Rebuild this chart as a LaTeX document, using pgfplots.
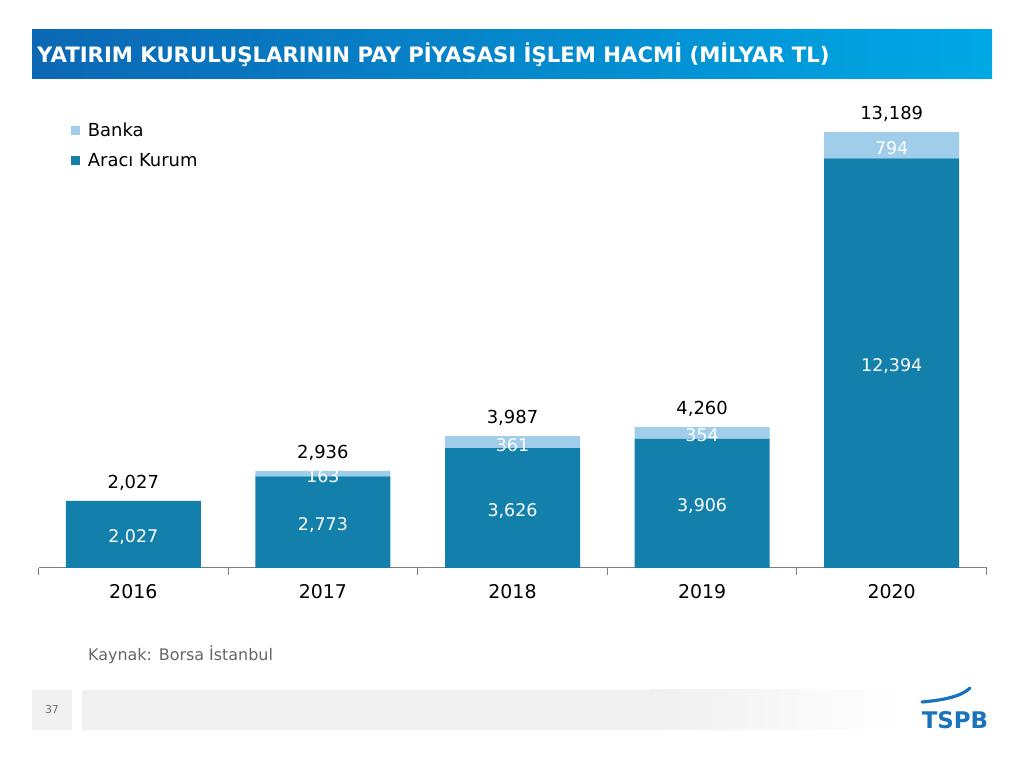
\documentclass[border=0pt]{standalone}
\usepackage{fontspec}
\setmainfont{DejaVu Sans}
\usepackage{pgfplots}
\pgfplotsset{compat=1.18}
\usepackage{pgfplotstable}

\definecolor{dark}{HTML}{1380AB}
\definecolor{light}{HTML}{9FCDEA}
\definecolor{tleft}{HTML}{0B67B4}
\definecolor{tright}{HTML}{00A8E4}
\definecolor{logo}{HTML}{1A74BB}
\definecolor{axisgray}{HTML}{7F7F7F}

\pgfplotstableread{
x araci banka total
0 2027 0 2027
1 2773 163 2936
2 3626 361 3987
3 3906 354 4260
4 12394 794 13189
}\data
\pgfplotstableread{
x araci banka
1 2773 163
2 3626 361
3 3906 354
4 12394 794
}\bankadata

\pgfplotsset{base/.style={at={(38.5bp,200bp)}, anchor=south west, scale only axis,
  width=948bp, height=462.8bp, xmin=-0.5, xmax=4.5, ymin=0, ymax=14000,
  /pgf/number format/assume math mode=true, /pgf/number format/1000 sep={,}}}

\begin{document}
\begin{tikzpicture}
\path[use as bounding box, fill=white] (0bp,0bp) rectangle (1024bp,768bp);
% title banner
\shade[left color=tleft, right color=tright] (32bp,689bp) rectangle (992bp,738bp);
\node[anchor=west, text=white, font=\bfseries\fontsize{21.3}{21.3}\selectfont, inner sep=0] at (37bp,713bp) {YATIRIM KURULUŞLARININ PAY PİYASASI İŞLEM HACMİ (MİLYAR TL)};

\begin{axis}[base, ybar stacked, bar width=135bp,
  axis x line*=bottom, axis y line=none,
  xtick={0,1,2,3,4}, xticklabels={2016,2017,2018,2019,2020},
  major tick length=0pt,
  minor xtick={-0.5,0.5,1.5,2.5,3.5,4.5}, minor tick length=7bp,
  tick align=outside, ytick=\empty,
  tick style={axisgray, line width=0.9pt},
  axis line style={axisgray, line width=1pt},
  xticklabel style={font=\fontsize{19}{19}\selectfont, yshift=-13bp},
  reverse legend,
  legend style={at={(0.034,0.966)}, anchor=north west, draw=none, fill=none,
    font=\fontsize{18}{18}\selectfont, row sep=11bp, inner sep=0pt,
    /tikz/every odd column/.append style={column sep=6bp}},
  legend cell align=left,
  legend image code/.code={\fill[#1] (0bp,-4.5bp) rectangle (9bp,4.5bp);},
]
\addplot[fill=dark, draw=none] table[x=x, y=araci]{\data};
\addplot[fill=light, draw=none] table[x=x, y=banka]{\data};
\legend{Aracı Kurum, Banka}
\end{axis}

\begin{axis}[base, hide axis]
\addplot[draw=none, mark=none, nodes near coords, point meta=explicit,
  nodes near coords style={anchor=center, text=white, yshift=-2.5bp, font=\fontsize{17.5}{17.5}\selectfont}]
  table[x=x, y expr=\thisrow{araci}/2, meta=araci]{\data};
\addplot[draw=none, mark=none, nodes near coords, point meta=explicit,
  nodes near coords style={anchor=center, text=white, yshift=-2.5bp, font=\fontsize{17.5}{17.5}\selectfont}]
  table[x=x, y expr=\thisrow{araci}+\thisrow{banka}/2, meta=banka]{\bankadata};
\addplot[draw=none, mark=none, nodes near coords, point meta=explicit,
  nodes near coords style={anchor=south, text=black, yshift=7bp, font=\fontsize{18}{18}\selectfont}]
  table[x=x, y=total, meta=total]{\data};
\end{axis}

% footer
\node[anchor=west, text=black!60, font=\fontsize{16}{16}\selectfont, inner sep=0] at (88bp,113bp) {Kaynak: Borsa İstanbul};
\fill[black!6] (32bp,38bp) rectangle (72bp,78bp);
\node[text=black!55, font=\fontsize{11}{11}\selectfont] at (52bp,58bp) {37};
\fill[black!6] (82bp,38bp) rectangle (650bp,78bp);
\shade[left color=black!6, right color=white] (649bp,38bp) rectangle (905bp,78bp);
% logo
\node[text=logo, font=\bfseries\fontsize{23}{23}\selectfont, inner sep=0] at (955bp,48bp) {TSPB};
\draw[logo, line width=3.2bp, line cap=round] (922bp,66bp) .. controls (945bp,68bp) and (962bp,72bp) .. (970bp,80bp);
\end{tikzpicture}
\end{document}
